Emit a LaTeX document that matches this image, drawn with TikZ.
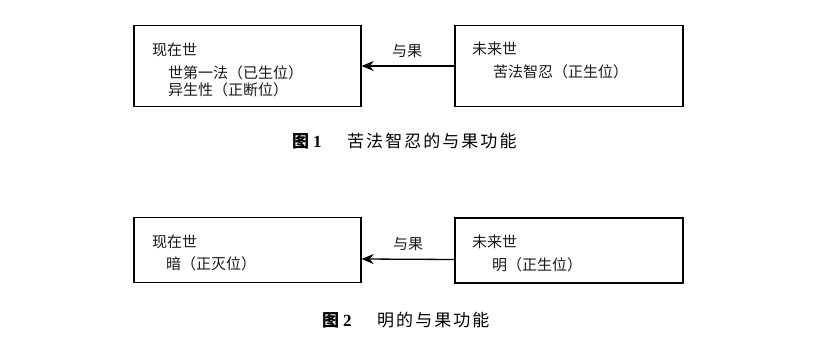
\documentclass[tikz,border=0pt]{standalone}
\usepackage{fontspec}
\newfontfamily\cjk{Noto Sans CJK SC}
\newfontfamily\cjkcap{Noto Sans CJK SC}[LetterSpace=12]
\newfontfamily\numfont{Liberation Serif}
\usetikzlibrary{arrows.meta}
\begin{document}
\begin{tikzpicture}[x=1pt,y=-1pt,
  box/.style={draw,line width=1.3pt,inner sep=0,fill=white},
  txt/.style={anchor=west,inner sep=0,font=\cjk\fontsize{15}{17}\selectfont,text=black!90},
  captxt/.style={anchor=west,inner sep=0,font=\cjkcap\fontsize{17}{19}\selectfont,text=black},
  arr/.style={line width=1.3pt,-{Stealth[length=12pt,width=10pt]}}]
\useasboundingbox (0,0) rectangle (827,350);
% Figure 1
\node[box,minimum width=227pt,minimum height=81pt] (a1) at (247.5,66) {};
\node[box,minimum width=228pt,minimum height=81pt] (b1) at (569,66) {};
\draw[arr] (b1.west) -- (a1.east);
\node[txt,anchor=center] (l1) at (407,51) {与果};
\node[txt] (a1t1) at (152,50) {现在世};
\node[txt] (a1t2) at (168,73) {世第一法（已生位）};
\node[txt] (a1t3) at (168,90) {异生性（正断位）};
\node[txt] (b1t1) at (472,49) {未来世};
\node[txt] (b1t2) at (493,72) {苦法智忍（正生位）};
\node[captxt] (c1a) at (292,141) {\bfseries 图\hspace{4pt}{\numfont\bfseries 1}};
\node[captxt] (c1b) at (347,141) {苦法智忍的与果功能};
% Figure 2
\node[box,minimum width=227pt,minimum height=65pt] (a2) at (247.5,250) {};
\node[box,minimum width=228pt,minimum height=65pt] (b2) at (569,250.5) {};
\draw[arr] ([yshift=-9pt]b2.west) -- ([yshift=-9pt]a2.east);
\node[txt,anchor=center] (l2) at (408,244) {与果};
\node[txt] (a2t1) at (152,242) {现在世};
\node[txt] (a2t2) at (166,264) {暗（正灭位）};
\node[txt] (b2t1) at (472,242) {未来世};
\node[txt] (b2t2) at (492,265) {明（正生位）};
\node[captxt] (c2a) at (322,320) {\bfseries 图\hspace{4pt}{\numfont\bfseries 2}};
\node[captxt] (c2b) at (377,320) {明的与果功能};
\end{tikzpicture}
\end{document}
